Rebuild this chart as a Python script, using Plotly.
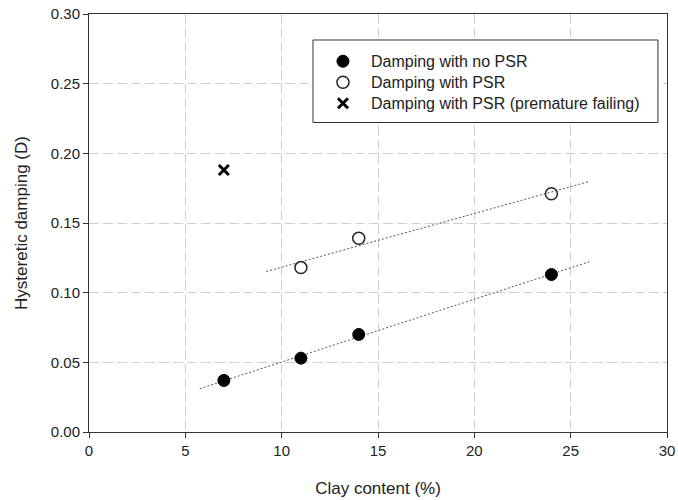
import numpy as np
import plotly.graph_objects as go

# Clay content (%) and measured hysteretic damping
clay_no_psr = [7, 11, 14, 24]
damp_no_psr = [0.037, 0.053, 0.070, 0.113]

clay_psr = [11, 14, 24]
damp_psr = [0.118, 0.139, 0.171]

clay_fail = [7]
damp_fail = [0.188]

# Extent of each least-squares trend line along the x axis
fit_span_no_psr = [5.75, 26.0]
fit_span_psr = [9.2, 25.9]

x_ticks = [0, 5, 10, 15, 20, 25, 30]
y_ticks = [0.00, 0.05, 0.10, 0.15, 0.20, 0.25, 0.30]

FONT = "Liberation Sans, Arial, sans-serif"
INK = "#222222"


def linear_fit(x, y, span):
    slope, intercept = np.polyfit(x, y, 1)
    xs = np.array(span)
    return xs, slope * xs + intercept


fig = go.Figure()

for xs, ys in (linear_fit(clay_no_psr, damp_no_psr, fit_span_no_psr),
               linear_fit(clay_psr, damp_psr, fit_span_psr)):
    fig.add_trace(go.Scatter(
        x=xs, y=ys, mode="lines", showlegend=False, hoverinfo="skip",
        line=dict(color="#555555", width=1, dash="2px,2px"),
    ))

fig.add_trace(go.Scatter(
    x=clay_no_psr, y=damp_no_psr, mode="markers", name="Damping with no PSR",
    legend="legend",
    marker=dict(symbol="circle", size=12, color="black",
                line=dict(color="black", width=1)),
))
fig.add_trace(go.Scatter(
    x=clay_psr, y=damp_psr, mode="markers", name="Damping with PSR",
    legend="legend2",
    marker=dict(symbol="circle-open", size=12, color="#222222",
                line=dict(color="#222222", width=1.5)),
))
fig.add_trace(go.Scatter(
    x=clay_fail, y=damp_fail, mode="markers",
    name="Damping with PSR (premature failing)",
    legend="legend3",
    marker=dict(symbol="x-thin-open", size=10, color="black",
                line=dict(color="black", width=3)),
))

axis_common = dict(
    showline=True, linecolor="#333333", linewidth=1, mirror=True,
    ticks="outside", ticklen=5, tickcolor="#333333", tickwidth=1,
    showgrid=True, gridcolor="#d0d0d0", gridwidth=1.4, griddash="10px,4px",
    zeroline=False, automargin=False,
    tickfont=dict(family=FONT, size=15, color=INK),
    title_font=dict(family=FONT, size=17, color=INK),
)

fig.update_xaxes(range=[0, 30], tickvals=x_ticks, title_text="Clay content (%)",
                 title_standoff=24, **axis_common)
fig.update_yaxes(range=[0, 0.30], tickvals=y_ticks, tickformat=".2f",
                 title_text="Hysteretic damping (D)", title_standoff=18, **axis_common)

# Framed, white-filled panel behind the legend entries
fig.add_shape(
    type="rect", xref="paper", yref="paper",
    x0=0.3875, x1=0.9844, y0=0.7404, y1=0.9378,
    line=dict(color="#333333", width=1), fillcolor="white", layer="above",
)


def legend_row(top):
    return dict(
        x=0.3875, y=top, xanchor="left", yanchor="top",
        bgcolor="rgba(0,0,0,0)", borderwidth=0,
        font=dict(family=FONT, size=16, color=INK),
        itemwidth=46, indentation=2,
    )


fig.update_layout(
    width=678, height=500,
    margin=dict(l=89, r=11, t=14, b=68, autoexpand=False),
    paper_bgcolor="white", plot_bgcolor="white",
    font=dict(family=FONT, color=INK),
    legend=legend_row(0.9275),
    legend2=legend_row(0.8773),
    legend3=legend_row(0.8270),
)

fig.write_html("out.html")
